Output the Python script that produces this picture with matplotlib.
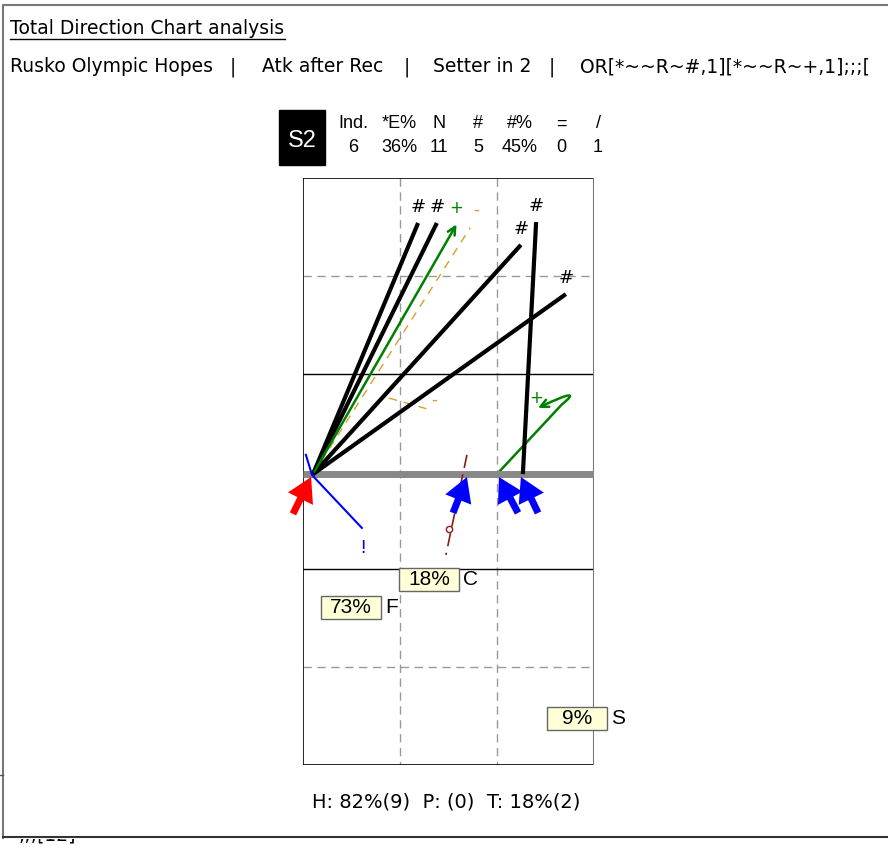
import numpy as np
import matplotlib
matplotlib.use('Agg')
import matplotlib.pyplot as plt
from matplotlib.patches import Rectangle, FancyArrowPatch
from matplotlib.path import Path
from matplotlib.transforms import Bbox, TransformedBbox

# ---- header data ----
title = 'Total Direction Chart analysis'
sub_parts = ['Rusko Olympic Hopes', '|', 'Atk after Rec', '|', 'Setter in 2', '|',
             'OR[*~~R~#,1][*~~R~+,1];;;[']
sub_x = [10, 230, 262, 404, 433, 549, 580]
rotation = 'S2'
stat_names = ['Ind.', '*E%', 'N', '#', '#%', '=', '/']
stat_values = ['6', '36%', '11', '5', '45%', '0', '1']
footer = 'H: 82%(9)  P: (0)  T: 18%(2)'

# ---- attacks (court metres, x 0-9 across, y 0-18 from top) ----
# good attacks (#), black
kill_start_x = [0.31, 0.31, 0.31, 0.31, 6.80]
kill_start_y = [9.08, 9.08, 9.08, 9.08, 9.08]
kill_end_x = [3.56, 4.14, 6.74, 8.13, 7.21]
kill_end_y = [1.38, 1.38, 2.05, 3.56, 1.35]
# positive (+) attack, green arrow
plus_start = (0.31, 9.08)
plus_end = (4.79, 1.35)
# curl attack (+), green
curl_x = [6.00, 8.00, 8.75, 7.27]
curl_y = [9.08, 6.95, 6.35, 7.05]
# negative (-) attacks, dashed gold
minus_x = [[0.31, 5.17], [2.66, 3.84]]
minus_y = [[9.08, 1.53], [6.75, 7.08]]
minus_lbl_x = [5.35, 4.05]
minus_lbl_y = [0.98, 6.81]
# error (!) blue
err_x = [0.09, 0.28, 1.82]
err_y = [8.49, 9.11, 10.73]
# over-pass (o) dark red
op_x = [5.07, 4.42]
op_y = [8.49, 11.56]
op_mark = (4.52, 10.76)
# receptions, blue arrows (tail -> tip)
rec_tail_x = [4.64, 6.65, 7.27]
rec_tail_y = [10.27, 10.27, 10.27]
rec_tip_x = [5.07, 6.06, 6.74]
rec_tip_y = [9.17, 9.17, 9.17]
# setter, red arrow
set_tail = (-0.31, 10.30)
set_tip = (0.25, 9.17)

# zone percentages
zone_names = ['C', 'F', 'S']
zone_pct = ['18%', '73%', '9%']
zone_x = [3.90, 1.48, 8.47]
zone_y = [12.30, 13.16, 16.56]

W, H = 888, 855
PX = 32.5  # pixels per metre on the court
fig = plt.figure(figsize=(W / 100, H / 100), dpi=100)
fig.patch.set_facecolor('white')

# background axes in pixel coords
bg = fig.add_axes([0, 0, 1, 1])
bg.set_xlim(0, W)
bg.set_ylim(H, 0)
bg.axis('off')

# outer frame
bg.plot([3, 3, 900], [838, 5, 5], color='#777777', lw=1.5)
bg.plot([3, 900], [837, 837], color='#333333', lw=1.5)
bg.plot([0, 3], [775, 775], color='#555555', lw=1)

bg.text(10, 29, title, fontsize=13.5, family='DejaVu Sans', va='center', ha='left')
bg.plot([10, 285], [39, 39], color='black', lw=1)
for sx, part in zip(sub_x, sub_parts):
    bg.text(sx, 67, part, fontsize=13.5, family='DejaVu Sans', va='center', ha='left')

# clipped wrap line below the frame
t = bg.text(18, 835, ';;;[12]', fontsize=13.5, family='DejaVu Sans', va='center', ha='left')
t.set_clip_box(TransformedBbox(Bbox([[0, 0], [1, (H - 839) / H]]), fig.transFigure))
t.set_clip_on(True)

# rotation box
bg.add_patch(Rectangle((279, 110), 46, 55, facecolor='black', edgecolor='black'))
bg.text(302, 141, rotation, color='white', fontsize=17, family='Liberation Sans',
        ha='center', va='center')
col_x = [353, 399, 439, 478, 520, 561, 598]
for cx, nm, v in zip(col_x, stat_names, stat_values):
    bg.text(cx, 124, nm, fontsize=13, family='Liberation Sans', ha='center', va='center')
    bg.text(cx, 147, v, fontsize=13, family='Liberation Sans', ha='center', va='center')

bg.text(446, 802, footer, fontsize=14, family='DejaVu Sans', ha='center', va='center')

# ---- court axes ----
ax = fig.add_axes([303 / W, 1 - 765 / H, 291 / W, 587 / H])
ax.set_xlim(0, 9)
ax.set_ylim(18, 0)
ax.axis('off')
ax.patch.set_alpha(0)

# grid
for gx in [3, 6]:
    ax.plot([gx, gx], [0, 18], color='#999999', lw=1, ls=(0, (6, 4)))
for gy in [3, 15]:
    ax.plot([0, 9], [gy, gy], color='#999999', lw=1, ls=(0, (6, 4)))
for gy in [6, 12]:
    ax.plot([0, 9], [gy, gy], color='black', lw=1)
ax.plot([0, 0], [0, 18], color='black', lw=1.2)
ax.plot([0, 9], [0, 0], color='black', lw=1.2)
ax.plot([0, 9], [18, 18], color='black', lw=1.2)
ax.plot([9, 9], [0, 18], color='#777777', lw=1.5)
ax.plot([0, 9], [9.08, 9.08], color='#888888', lw=5, solid_capstyle='butt')

# negative attacks
for xs, ys in zip(minus_x, minus_y):
    ax.plot(xs, ys, color='#d4a22c', lw=1, ls=(0, (6, 5)))
for lx, ly in zip(minus_lbl_x, minus_lbl_y):
    ax.text(lx, ly, '-', color='#d4a22c', fontsize=12, ha='center', va='center')

# kills
for sx, sy, ex, ey in zip(kill_start_x, kill_start_y, kill_end_x, kill_end_y):
    ax.plot([sx, ex], [sy, ey], color='black', lw=3, solid_capstyle='butt')
    ax.annotate('#', (ex, ey), xytext=(0, 11.5), textcoords='offset points',
                fontsize=13, ha='center', va='center')

# positive attack
ax.annotate('', xy=plus_end, xytext=plus_start,
            arrowprops=dict(arrowstyle='->', color='green', lw=1.8, mutation_scale=14))
ax.annotate('+', plus_end, xytext=(-1, 10), textcoords='offset points',
            color='green', fontsize=12, ha='center', va='center')

# curl attack
verts = list(zip(curl_x, curl_y))
curl = Path(verts, [Path.MOVETO, Path.LINETO, Path.CURVE3, Path.CURVE3])
ax.add_patch(FancyArrowPatch(path=curl, arrowstyle='->', color='green', lw=1.8,
                             mutation_scale=14))
ax.text(7.21, 6.75, '+', color='green', fontsize=12, ha='center', va='center')

# error
ax.plot(err_x, err_y, color='blue', lw=1.5, clip_on=False)
ax.text(err_x[-1] + 0.04, err_y[-1] + 0.62, '!', color='blue', fontsize=13,
        ha='center', va='center')

# over-pass
ax.plot(op_x, op_y, color='#8b1a1a', lw=1.2, ls=(0, (8, 4)))
ax.plot(*op_mark, 'o', ms=4.5, mfc='white', mec='#8b1a1a', mew=1)


def big_arrow(tail, tip, color):
    ax.arrow(tail[0], tail[1], tip[0] - tail[0], tip[1] - tail[1],
             width=7 / PX, head_width=28 / PX, head_length=24 / PX,
             length_includes_head=True, color=color, lw=0, clip_on=False, zorder=4)


# receptions
for tx, ty, hx, hy in zip(rec_tail_x, rec_tail_y, rec_tip_x, rec_tip_y):
    big_arrow((tx, ty), (hx, hy), 'blue')

# setter
big_arrow(set_tail, set_tip, 'red')

# zone labels
bw, bh = 61 / PX, 23 / PX
for nm, p, zx, zy in zip(zone_names, zone_pct, zone_x, zone_y):
    ax.add_patch(Rectangle((zx - bw / 2, zy - bh / 2), bw, bh, facecolor='#ffffd8',
                           edgecolor='#666666', lw=1, clip_on=False, zorder=5))
    ax.text(zx, zy, p, fontsize=15, family='Liberation Sans', ha='center',
            va='center', zorder=6)
    ax.text(zx + bw / 2 + 0.12, zy, nm, fontsize=15, family='Liberation Sans',
            ha='left', va='center', zorder=6, clip_on=False)

fig.savefig('out.png', dpi=100, facecolor='white')
